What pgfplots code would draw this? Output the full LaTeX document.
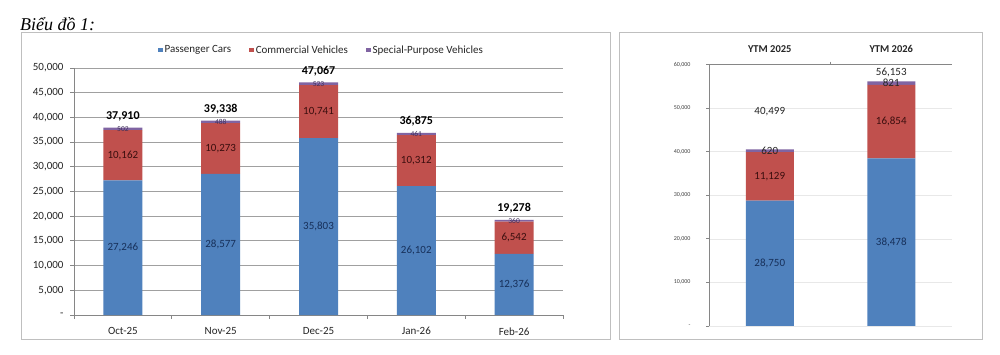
\documentclass[border=0pt]{standalone}
\usepackage{fontspec}
\setmainfont{Carlito}
\newfontfamily\titlefont{Liberation Serif}
\usepackage{pgfplots}
\pgfplotsset{compat=1.18}
\definecolor{cBlue}{HTML}{4F81BD}
\definecolor{cRed}{HTML}{C0504D}
\definecolor{cPurple}{HTML}{8064A2}
\definecolor{txtBlue}{HTML}{17305A}
\definecolor{txtRed}{HTML}{3A0E0E}
\definecolor{txtPurple}{HTML}{3F2F5A}
\definecolor{gridc}{HTML}{A0A0A0}
\definecolor{axisc}{HTML}{868686}
\definecolor{boxc}{HTML}{BFBFBF}
\newcommand{\fs}[1]{\fontsize{#1}{#1}\selectfont}
\pgfplotsset{
  sqleg/.style={legend image code/.code={\fill[##1] (0bp,-2.3bp) rectangle (4.6bp,2.3bp);}},
  leftgeom/.style={at={(74bp,40bp)}, anchor=south west, scale only axis,
    width=489bp, height=247bp, xmin=-0.5, xmax=4.5, ymin=0, ymax=50000, enlargelimits=false},
  rightgeom/.style={at={(709bp,29bp)}, anchor=south west, scale only axis,
    width=243bp, height=261.5bp, xmin=-0.5, xmax=1.5, ymin=0, ymax=60000, enlargelimits=false},
}
\tikzset{
  lb/.style={font=\fs{11bp}, inner sep=0, text=txtBlue},
  lr/.style={font=\fs{11bp}, inner sep=0, text=txtRed},
  lp/.style={font=\fs{7.5bp}, inner sep=0, text=txtPurple},
  lt/.style={font=\bfseries\fs{12bp}, inner sep=0, anchor=base, yshift=8bp},
  lk/.style={font=\fs{11bp}, inner sep=0, text=black!85},
}
\begin{document}
\begin{tikzpicture}
\useasboundingbox (0,0) rectangle (1000bp,355bp);
\fill[white] (0,0) rectangle (1000bp,355bp);
\node[anchor=base west, inner sep=0] at (20bp,324bp) {\titlefont\itshape\fs{18bp}Biểu đồ 1:};
\draw[boxc, line width=1bp] (21bp,15bp) rectangle (610bp,322bp);
\draw[boxc, line width=1bp] (619bp,15bp) rectangle (982bp,322bp);

% ---------------- left chart ----------------
\begin{axis}[
  leftgeom,
  ybar stacked, bar width=39bp,
  axis x line*=bottom, axis y line*=left,
  axis line style={axisc, line width=0.8bp},
  xtick={0,1,2,3,4}, xticklabels={Oct-25,Nov-25,Dec-25,Jan-26,Feb-26},
  minor xtick={-0.5,0.5,1.5,2.5,3.5,4.5},
  major x tick style={draw=none},
  ytick={0,5000,...,50000}, scaled y ticks=false,
  yticklabels={{-\hspace{5bp}},{5,000},{10,000},{15,000},{20,000},{25,000},{30,000},{35,000},{40,000},{45,000},{50,000}},
  tick align=outside, major tick length=4bp, minor tick length=4bp,
  tick style={axisc, line width=0.8bp},
  ymajorgrids, grid style={gridc, line width=0.9bp},
  yticklabel style={font=\fs{11bp}, text=black!85, xshift=-3bp},
  xticklabel style={font=\fs{11bp}, text=black!85, yshift=-5bp},
  legend style={at={(0.506,1.073)}, anchor=center, draw=none, fill=none,
    legend columns=3, font=\fs{11bp}, text=black!85,
    /tikz/every even column/.append style={column sep=16bp}},
  clip=false,
]
\addplot[fill=cBlue, draw=none, sqleg] coordinates {(0,27246) (1,28577) (2,35803) (3,26102) (4,12376)};
\addplot[fill=cRed, draw=none, sqleg] coordinates {(0,10162) (1,10273) (2,10741) (3,10312) (4,6542)};
\addplot[fill=cPurple, draw=none, sqleg] coordinates {(0,502) (1,488) (2,523) (3,461) (4,360)};
\legend{Passenger Cars, Commercial Vehicles, Special-Purpose Vehicles}
\end{axis}
% labels on top of the left chart
\begin{axis}[leftgeom, hide axis, clip=false]
\node[lb] at (axis cs:0,13623) {27,246};
\node[lb] at (axis cs:1,14288) {28,577};
\node[lb] at (axis cs:2,17901) {35,803};
\node[lb] at (axis cs:3,13051) {26,102};
\node[lb] at (axis cs:4,6188) {12,376};
\node[lr] at (axis cs:0,32327) {10,162};
\node[lr] at (axis cs:1,33713) {10,273};
\node[lr] at (axis cs:2,41173) {10,741};
\node[lr] at (axis cs:3,31258) {10,312};
\node[lr] at (axis cs:4,15647) {6,542};
\node[lp] at (axis cs:0,37659) {502};
\node[lp] at (axis cs:1,39094) {488};
\node[lp] at (axis cs:2,46806) {523};
\node[lp] at (axis cs:3,36645) {461};
\node[lp] at (axis cs:4,19098) {360};
\node[lt] at (axis cs:0,37910) {37,910};
\node[lt] at (axis cs:1,39338) {39,338};
\node[lt] at (axis cs:2,47067) {47,067};
\node[lt] at (axis cs:3,36875) {36,875};
\node[lt] at (axis cs:4,19278) {19,278};
\end{axis}

% ---------------- right chart ----------------
\begin{axis}[
  rightgeom,
  ybar stacked, bar width=48bp,
  axis x line*=top, axis y line*=left,
  axis line style={axisc, line width=0.8bp},
  xtick={0,1}, xticklabels={YTM 2025, YTM 2026},
  minor xtick={0.5},
  major x tick style={draw=none},
  ytick={0,10000,...,60000}, scaled y ticks=false,
  yticklabels={{-\hspace{3bp}},{10,000},{20,000},{30,000},{40,000},{50,000},{60,000}},
  tick align=outside, major tick length=3bp, minor tick length=3bp,
  tick style={axisc, line width=0.8bp},
  ymajorgrids, grid style={gray!18, line width=0.6bp},
  yticklabel style={font=\fs{6bp}, text=black!75, xshift=-12bp},
  xticklabel style={font=\bfseries\fs{10.5bp}, text=black!85, yshift=5bp},
  clip=false,
]
\addplot[fill=cBlue, draw=none] coordinates {(0,28750) (1,38478)};
\addplot[fill=cRed, draw=none] coordinates {(0,11129) (1,16854)};
\addplot[fill=cPurple, draw=none] coordinates {(0,620) (1,821)};
\end{axis}
\begin{axis}[rightgeom, hide axis, clip=false]
\node[lb] at (axis cs:0,14375) {28,750};
\node[lb] at (axis cs:1,19239) {38,478};
\node[lr] at (axis cs:0,34315) {11,129};
\node[lr] at (axis cs:1,46905) {16,854};
\node[lk] at (axis cs:0,40189) {620};
\node[lk] at (axis cs:1,55742) {821};
\node[lk] at (axis cs:0,49200) {40,499};
\node[lk] at (axis cs:1,58250) {56,153};
\end{axis}
\end{tikzpicture}
\end{document}
